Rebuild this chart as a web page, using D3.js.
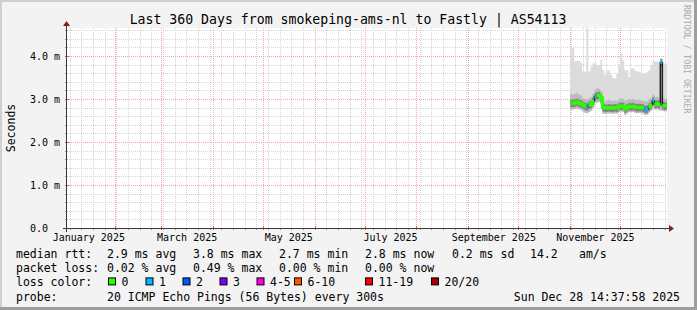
<!DOCTYPE html>
<html>
<head>
<meta charset="utf-8">
<script src="https://cdn.jsdelivr.net/npm/d3@7"></script>
<style>
  html, body { margin: 0; padding: 0; background: #f3f3f3; }
  svg { display: block; font-family: "DejaVu Sans Mono", monospace; }
</style>
</head>
<body>
<div id="chart"></div>
<script>
// title and text
const chartTitle = 'Last 360 Days from smokeping-ams-nl to Fastly | AS54113';
const yTitle = 'Seconds';
const sideNote = 'RRDTOOL / TOBI OETIKER';

// y axis labels (value -> text)
const yTickValues = [0, 1, 2, 3, 4];
const yTickLabels = ['0.0', '1.0 m', '2.0 m', '3.0 m', '4.0 m'];

// x axis labels, every second month
const monthLabels = ['January 2025', 'March 2025', 'May 2025', 'July 2025', 'September 2025', 'November 2025'];

// legend rows
const legendRtt = ['median rtt:', '2.9 ms avg', '3.8 ms max', '2.7 ms min', '2.8 ms now', '0.2 ms sd', '14.2', 'am/s'];
const legendLoss = ['packet loss:', '0.02 % avg', '0.49 % max', '0.00 % min', '0.00 % now'];
const lossLabels = ['0', '1', '2', '3', '4-5', '6-10', '11-19', '20/20'];
const lossColors = ['#26ff00', '#00b8ff', '#0059ff', '#7e00ff', '#ff00e6', '#ff5500', '#ff0000', '#a00000'];
const probeRow = ['probe:', '20 ICMP Echo Pings (56 Bytes) every 300s', 'Sun Dec 28 14:37:58 2025'];

// measurements (ms), one every 28.8 h from 1 Nov 2025
const medianRtt = [2.90, 2.90, 2.91, 2.93, 2.90, 2.89, 2.86, 2.83, 2.82, 2.86,
  2.88, 2.95, 3.05, 3.08, 3.09, 3.03, 2.80, 2.79, 2.79, 2.80,
  2.79, 2.79, 2.80, 2.79, 2.83, 2.84, 2.83, 2.77, 2.80, 2.83,
  2.82, 2.83, 2.81, 2.80, 2.81, 2.80, 2.79, 2.76, 2.77, 2.82,
  2.86, 2.96, 2.88, 2.89, 2.87, 3.85, 2.85, 2.84, 2.86];
const lostPings = [0, 0, 0, 0, 0, 0, 0, 0, 1, 0,
  0, 0, 1, 0, 0, 0, 0, 0, 0, 0,
  0, 0, 0, 0, 0, 0, 0, 0, 0, 0,
  0, 0, 0, 0, 0, 0, 0, 1, 1, 0,
  0, 1, 0, 0, 0, 1, 0, 0, 0];
const pingMax = [4.18, 4.18, 3.87, 3.89, 3.89, 3.83, 3.64, 3.64, 4.64, 3.64,
  3.75, 3.83, 3.83, 3.79, 3.79, 3.91, 3.67, 3.56, 3.66, 3.66,
  3.56, 3.48, 3.48, 3.60, 3.79, 4.06, 3.90, 3.67, 3.67, 3.52,
  3.71, 3.71, 3.66, 3.64, 3.64, 3.60, 3.60, 3.58, 3.62, 3.67,
  3.79, 3.87, 3.87, 3.88, 3.85, 3.95, 3.85, 3.82, 3.85];
const pingHigh = [3.12, 3.10, 3.12, 3.15, 3.10, 3.08, 3.02, 3.00, 3.00, 3.02,
  3.05, 3.12, 3.22, 3.25, 3.24, 3.18, 2.98, 2.95, 2.97, 2.98,
  2.96, 2.95, 2.97, 2.96, 3.00, 3.02, 3.00, 2.96, 2.98, 3.00,
  2.99, 3.00, 2.98, 2.97, 2.98, 2.97, 2.96, 2.94, 2.95, 3.00,
  3.03, 3.10, 3.05, 3.05, 3.03, 3.10, 3.02, 3.00, 3.02];
const pingMin = [2.75, 2.76, 2.77, 2.78, 2.76, 2.75, 2.71, 2.68, 2.67, 2.70,
  2.73, 2.80, 2.90, 2.92, 2.93, 2.88, 2.66, 2.65, 2.66, 2.67,
  2.66, 2.65, 2.67, 2.66, 2.70, 2.71, 2.70, 2.63, 2.67, 2.70,
  2.69, 2.70, 2.68, 2.67, 2.68, 2.67, 2.66, 2.63, 2.64, 2.69,
  2.73, 2.80, 2.75, 2.76, 2.74, 2.73, 2.72, 2.71, 2.72];

const width = 697;
const height = 310;
const plot = { left: 67, right: 667, top: 28, bottom: 228 };

const timeStart = new Date(Date.UTC(2025, 0, 3, 10));
const timeEnd = new Date(Date.UTC(2025, 11, 29, 10));
const dataStart = new Date(Date.UTC(2025, 10, 1, 10));
const stepMs = 28.8 * 3600 * 1000;

const x = d3.scaleUtc().domain([timeStart, timeEnd]).range([plot.left, plot.right]);
const y = d3.scaleLinear().domain([0, 4.651]).range([plot.bottom, plot.top]);

const points = medianRtt.map((v, i) => ({
  t: new Date(+dataStart + i * stepMs),
  med: v,
  loss: lostPings[i],
  max: pingMax[i],
  high: pingHigh[i],
  min: pingMin[i],
}));
// one extra point so the last step gets its width
const stepped = points.concat([{ ...points[points.length - 1], t: new Date(+dataStart + points.length * stepMs) }]);

const svg = d3.select('#chart')
  .append('svg')
  .attr('width', width)
  .attr('height', height)
  .attr('viewBox', [0, 0, width, height]);

// background and frame
svg.append('rect').attr('width', width).attr('height', height).attr('fill', '#f3f3f3');
svg.append('rect').attr('x', 0).attr('y', 0).attr('width', width).attr('height', 2).attr('fill', '#cfcfcf');
svg.append('rect').attr('x', 0).attr('y', 0).attr('width', 2).attr('height', height).attr('fill', '#cfcfcf');
svg.append('rect').attr('x', width - 3).attr('y', 0).attr('width', 3).attr('height', height).attr('fill', '#9e9e9e');
svg.append('rect').attr('x', 0).attr('y', height - 3).attr('width', width).attr('height', 3).attr('fill', '#9e9e9e');

svg.append('rect')
  .attr('x', plot.left).attr('y', plot.top)
  .attr('width', plot.right - plot.left).attr('height', plot.bottom - plot.top)
  .attr('fill', '#ffffff');

svg.append('clipPath').attr('id', 'plotclip')
  .append('rect')
  .attr('x', plot.left).attr('y', plot.top)
  .attr('width', plot.right - plot.left).attr('height', plot.bottom - plot.top);

// grid
const minorColor = '#d4d4d4';
const majorColor = '#eea8a8';
const grid = svg.append('g').attr('shape-rendering', 'crispEdges');

const yMinor = d3.range(1, 24).map((k) => k * 0.2).filter((v) => Math.abs(v - Math.round(v)) > 0.01);
grid.selectAll('.hminor').data(yMinor).join('line')
  .attr('x1', plot.left).attr('x2', plot.right)
  .attr('y1', (d) => Math.round(y(d)) + 0.5).attr('y2', (d) => Math.round(y(d)) + 0.5)
  .attr('stroke', minorColor).attr('stroke-dasharray', '1,1');

const weeks = d3.utcSunday.range(timeStart, timeEnd);
grid.selectAll('.vminor').data(weeks).join('line')
  .attr('x1', (d) => Math.round(x(d)) + 0.5).attr('x2', (d) => Math.round(x(d)) + 0.5)
  .attr('y1', plot.top).attr('y2', plot.bottom)
  .attr('stroke', minorColor).attr('stroke-dasharray', '1,1');

grid.selectAll('.hmajor').data(yTickValues.slice(1)).join('line')
  .attr('x1', plot.left).attr('x2', plot.right)
  .attr('y1', (d) => Math.round(y(d)) + 0.5).attr('y2', (d) => Math.round(y(d)) + 0.5)
  .attr('stroke', majorColor).attr('stroke-dasharray', '1,1');

const months = d3.utcMonth.range(timeStart, timeEnd);
grid.selectAll('.vmajor').data(months).join('line')
  .attr('x1', (d) => Math.round(x(d)) + 0.5).attr('x2', (d) => Math.round(x(d)) + 0.5)
  .attr('y1', plot.top).attr('y2', plot.bottom)
  .attr('stroke', majorColor).attr('stroke-dasharray', '1,1');

// small ticks on the axes
grid.selectAll('.ytick').data(yMinor).join('line')
  .attr('x1', plot.left - 2).attr('x2', plot.left)
  .attr('y1', (d) => Math.round(y(d)) + 0.5).attr('y2', (d) => Math.round(y(d)) + 0.5)
  .attr('stroke', '#999');
grid.selectAll('.ytickm').data(yTickValues.slice(1)).join('line')
  .attr('x1', plot.left - 2).attr('x2', plot.left + 2)
  .attr('y1', (d) => Math.round(y(d)) + 0.5).attr('y2', (d) => Math.round(y(d)) + 0.5)
  .attr('stroke', '#c66');
grid.selectAll('.xtick').data(weeks).join('line')
  .attr('x1', (d) => Math.round(x(d)) + 0.5).attr('x2', (d) => Math.round(x(d)) + 0.5)
  .attr('y1', plot.bottom).attr('y2', plot.bottom + 2)
  .attr('stroke', '#999');
grid.selectAll('.xtickm').data(months).join('line')
  .attr('x1', (d) => Math.round(x(d)) + 0.5).attr('x2', (d) => Math.round(x(d)) + 0.5)
  .attr('y1', plot.bottom - 2).attr('y2', plot.bottom + 2)
  .attr('stroke', '#c66');

// smoke
const data = svg.append('g').attr('clip-path', 'url(#plotclip)');

data.append('path')
  .datum(stepped)
  .attr('fill', '#dcdcdc')
  .attr('d', d3.area().curve(d3.curveStepAfter)
    .x((d) => x(d.t)).y0((d) => y(d.min)).y1((d) => y(d.max)));

data.append('path')
  .datum(stepped)
  .attr('fill', '#bcbcbc')
  .attr('d', d3.area().curve(d3.curveStepAfter)
    .x((d) => x(d.t)).y0((d) => y(d.min)).y1((d) => y(d.high)));

// dark core of the smoke, a fixed pixel band round the median
data.append('path')
  .datum(stepped)
  .attr('fill', '#858585')
  .attr('d', d3.area().curve(d3.curveStepAfter)
    .x((d) => x(d.t)).y0((d) => y(d.med) + 4).y1((d) => y(d.med) - 3.5));

const medianLine = d3.line().curve(d3.curveStepAfter).x((d) => x(d.t)).y((d) => y(d.med));

data.append('path')
  .datum(stepped)
  .attr('fill', 'none')
  .attr('stroke', '#202020')
  .attr('stroke-width', 1.5)
  .attr('d', medianLine);

// median coloured by loss: one path per run of equal loss
const runs = [];
points.forEach((p, i) => {
  const last = runs[runs.length - 1];
  if (last && last.loss === p.loss) last.pts.push(p);
  else runs.push({ loss: p.loss, pts: [p] });
  runs[runs.length - 1].end = stepped[i + 1].t;
});

data.selectAll('.loss').data(runs).join('path')
  .attr('fill', 'none')
  .attr('stroke', (r) => lossColors[r.loss])
  .attr('stroke-width', 3)
  .attr('d', (r) => medianLine(r.pts.concat([{ ...r.pts[r.pts.length - 1], t: r.end }])));

// axes
const axisColor = '#3a3a3a';
const arrowColor = '#7f1f1f';
svg.append('line')
  .attr('x1', plot.left - 4).attr('x2', plot.right + 4)
  .attr('y1', plot.bottom + 0.5).attr('y2', plot.bottom + 0.5)
  .attr('stroke', axisColor);
svg.append('line')
  .attr('x1', plot.left - 0.5).attr('x2', plot.left - 0.5)
  .attr('y1', plot.bottom + 4).attr('y2', plot.top - 4)
  .attr('stroke', axisColor);
svg.append('path')
  .attr('d', `M${plot.right + 2},${plot.bottom - 3}L${plot.right + 7},${plot.bottom + 0.5}L${plot.right + 2},${plot.bottom + 4}Z`)
  .attr('fill', arrowColor);
svg.append('path')
  .attr('d', `M${plot.left - 4},${plot.top - 2}L${plot.left - 0.5},${plot.top - 7}L${plot.left + 3},${plot.top - 2}Z`)
  .attr('fill', arrowColor);

// y labels
svg.append('g')
  .selectAll('text').data(yTickValues).join('text')
  .attr('x', 30)
  .attr('y', (d) => y(d) + 3.6)
  .attr('font-size', '10px')
  .attr('fill', '#000')
  .text((d, i) => yTickLabels[i]);

// x labels, centred in the middle of their month
const labelMonths = d3.utcMonth.every(2).range(d3.utcYear(timeStart), timeEnd);
svg.append('g')
  .selectAll('text').data(labelMonths).join('text')
  .attr('x', (d) => x(d3.utcHour.offset(d, 15 * 24 + 12)))
  .attr('y', 241)
  .attr('text-anchor', 'middle')
  .attr('font-size', '10px')
  .attr('fill', '#000')
  .text((d, i) => monthLabels[i]);

// title
svg.append('text')
  .attr('x', 348).attr('y', 24)
  .attr('text-anchor', 'middle')
  .attr('font-size', '13.2px')
  .attr('fill', '#000')
  .text(chartTitle);

svg.append('text')
  .attr('transform', 'translate(15,128) rotate(-90)')
  .attr('text-anchor', 'middle')
  .attr('font-size', '11.5px')
  .attr('fill', '#000')
  .text(yTitle);

svg.append('text')
  .attr('transform', 'translate(684,5) rotate(90)')
  .attr('font-size', '8.2px')
  .attr('fill', '#aaaaaa')
  .text(sideNote);

// legend
const legendFont = '11.5px';
const rowY = [258, 272.2, 286.4, 300.6];
const rttCols = [16, 107, 193, 279, 365, 452, 530, 579];
const legend = svg.append('g').attr('font-size', legendFont).attr('fill', '#000');

legend.selectAll('.rtt').data(legendRtt).join('text')
  .attr('x', (d, i) => rttCols[i]).attr('y', rowY[0]).text((d) => d);
legend.selectAll('.pl').data(legendLoss).join('text')
  .attr('x', (d, i) => rttCols[i]).attr('y', rowY[1]).text((d) => d);

legend.append('text').attr('x', 16).attr('y', rowY[2]).text('loss color:');
const boxX = [108, 145.5, 182.5, 219.5, 256.5, 294, 365, 431];
const lossItems = legend.selectAll('.li').data(lossLabels).join('g');
lossItems.append('rect')
  .attr('x', (d, i) => boxX[i] + 0.5).attr('y', rowY[2] - 8.5)
  .attr('width', 7).attr('height', 7)
  .attr('fill', (d, i) => lossColors[i])
  .attr('stroke', '#000');
lossItems.append('text')
  .attr('x', (d, i) => boxX[i] + 13.5).attr('y', rowY[2])
  .text((d) => d);

legend.append('text').attr('x', 16).attr('y', rowY[3]).text(probeRow[0]);
legend.append('text').attr('x', 107).attr('y', rowY[3]).text(probeRow[1]);
legend.append('text').attr('x', 680).attr('y', rowY[3]).attr('text-anchor', 'end').text(probeRow[2]);
</script>
</body>
</html>
